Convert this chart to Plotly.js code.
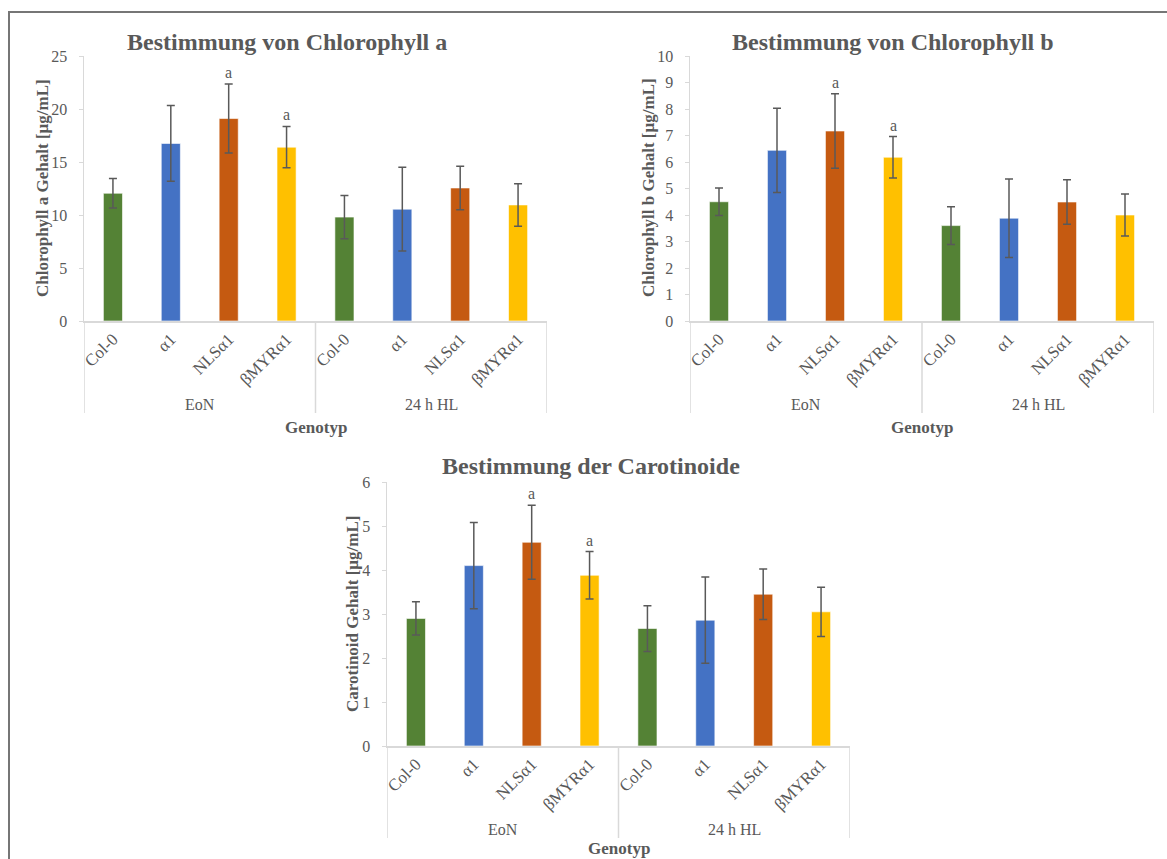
<!DOCTYPE html>
<html>
<head>
<meta charset="utf-8">
<script src="https://cdn.plot.ly/plotly-3.0.1.min.js"></script>
<style>html,body{margin:0;padding:0;background:#fff;}#chart{width:1167px;height:859px;}</style>
</head>
<body>
<div id="chart"></div>
<script>
// ---- data ----
const groups = ['EoN','EoN','EoN','EoN','24 h HL','24 h HL','24 h HL','24 h HL'];
const genotypes = ['Col-0','α1','NLSα1','βMYRα1','Col-0','α1','NLSα1','βMYRα1'];
const genotypeColors = {'Col-0':'#548235','α1':'#4472C4','NLSα1':'#C55A11','βMYRα1':'#FFC000'};
const chlA = [12.05, 16.75, 19.1, 16.4, 9.8, 10.55, 12.55, 10.95];
const chlA_sd = [1.4, 3.57, 3.25, 1.95, 2.05, 3.95, 2.05, 2.0];
const chlB = [4.5, 6.44, 7.17, 6.18, 3.6, 3.88, 4.49, 4.0];
const chlB_sd = [0.52, 1.59, 1.41, 0.78, 0.71, 1.48, 0.84, 0.79];
const car = [2.9, 4.1, 4.63, 3.88, 2.67, 2.86, 3.45, 3.05];
const car_sd = [0.38, 0.98, 0.84, 0.54, 0.52, 0.98, 0.575, 0.56];
const sigLabels = ['', '', 'a', 'a', '', '', '', ''];
const titles = ['Bestimmung von Chlorophyll a', 'Bestimmung von Chlorophyll b', 'Bestimmung der Carotinoide'];
const yTitles = ['Chlorophyll a Gehalt [µg/mL]', 'Chlorophyll b Gehalt [µg/mL]', 'Carotinoid Gehalt [µg/mL]'];
const xTitle = 'Genotyp';

// ---- layout helpers ----
const W = 1167, H = 859;
const px = v => v / W;
const py = v => 1 - v / H;
const FONT = 'Liberation Serif, Times New Roman, serif';
const GREY = '#595959';
const AX = '#d9d9d9';

const panels = [
  {vals: chlA, sd: chlA_sd, x: [84, 547], y: [56, 321], range: [0, 25], dtick: 5, title: [287, 42], ytitle: [42, 188], grp: 404, geno: 427, div: 413},
  {vals: chlB, sd: chlB_sd, x: [690, 1154], y: [56, 321], range: [0, 10], dtick: 1, title: [893, 42], ytitle: [648, 188], grp: 404, geno: 427, div: 413},
  {vals: car, sd: car_sd, x: [387, 850], y: [482, 746], range: [0, 6], dtick: 1, title: [591, 466], ytitle: [352, 614], grp: 829, geno: 848, div: 838}
];

const idx = genotypes.map((_, i) => i);
const uniqGroups = [...new Set(groups)];
const data = [];
const layout = {
  width: W, height: H,
  margin: {l: 0, r: 0, t: 0, b: 0},
  paper_bgcolor: '#fff', plot_bgcolor: '#fff',
  showlegend: false,
  bargap: 0.67,
  font: {family: FONT, color: GREY, size: 16},
  annotations: [], shapes: []
};

// outer frame
layout.shapes.push({type: 'rect', xref: 'paper', yref: 'paper', x0: px(9), x1: 1.02, y0: -0.02, y1: py(12), line: {color: '#767676', width: 2}});

panels.forEach((p, k) => {
  const n = k + 1;
  const xa = n === 1 ? 'x' : 'x' + n, ya = n === 1 ? 'y' : 'y' + n;
  const xk = n === 1 ? 'xaxis' : 'xaxis' + n, yk = n === 1 ? 'yaxis' : 'yaxis' + n;
  data.push({
    type: 'bar', x: idx, y: p.vals, xaxis: xa, yaxis: ya,
    marker: {color: genotypes.map(g => genotypeColors[g]), line: {color: 'rgba(255,255,255,0.6)', width: 1}},
    error_y: {type: 'data', array: p.sd, visible: true, color: GREY, thickness: 1.5, width: 4},
    hoverinfo: 'skip'
  });
  layout[xk] = {
    domain: [px(p.x[0]), px(p.x[1])], anchor: ya, range: [-0.5, genotypes.length - 0.5],
    tickmode: 'array', tickvals: idx, ticktext: genotypes, tickangle: -45,
    showline: true, linecolor: AX, linewidth: 1.5, ticks: '', showgrid: false, zeroline: false,
    tickfont: {family: FONT, size: 17, color: GREY}, fixedrange: true
  };
  layout[yk] = {
    domain: [py(p.y[1]), py(p.y[0])], anchor: xa, range: p.range, dtick: p.dtick,
    showline: true, linecolor: AX, linewidth: 1.5, ticks: 'outside', ticklen: 4, tickcolor: AX,
    ticklabelstandoff: 8,
    showgrid: false, zeroline: false, tickfont: {family: FONT, size: 16, color: GREY}, fixedrange: true
  };
  // title
  layout.annotations.push({text: '<b>' + titles[k] + '</b>', xref: 'paper', yref: 'paper', x: px(p.title[0]), y: py(p.title[1]), xanchor: 'center', yanchor: 'middle', showarrow: false, font: {family: FONT, size: 24, color: GREY}});
  // y title
  layout.annotations.push({text: '<b>' + yTitles[k] + '</b>', xref: 'paper', yref: 'paper', x: px(p.ytitle[0]), y: py(p.ytitle[1]), xanchor: 'center', yanchor: 'middle', textangle: -90, showarrow: false, font: {family: FONT, size: 17, color: GREY}});
  // x title
  layout.annotations.push({text: '<b>' + xTitle + '</b>', xref: xa, yref: 'paper', x: (genotypes.length - 1) / 2, y: py(p.geno), xanchor: 'center', yanchor: 'middle', showarrow: false, font: {family: FONT, size: 17, color: GREY}});
  // group labels and dividers
  const bounds = [];
  uniqGroups.forEach(g => {
    const members = idx.filter(i => groups[i] === g);
    const c = members.reduce((a, b) => a + b, 0) / members.length;
    layout.annotations.push({text: g, xref: xa, yref: 'paper', x: c, y: py(p.grp), xanchor: 'center', yanchor: 'middle', showarrow: false, font: {family: FONT, size: 16, color: GREY}});
    bounds.push(members[0] - 0.5, members[members.length - 1] + 0.5);
  });
  [...new Set(bounds)].forEach(b => {
    layout.shapes.push({type: 'line', xref: xa, yref: 'paper', x0: b, x1: b, y0: py(p.y[1]), y1: py(p.div), line: {color: AX, width: 1.5}});
  });
  // significance letters
  idx.forEach(i => {
    if (sigLabels[i]) {
      layout.annotations.push({text: sigLabels[i], xref: xa, yref: ya, x: i, y: p.vals[i] + p.sd[i], xanchor: 'center', yanchor: 'bottom', yshift: 1, showarrow: false, font: {family: FONT, size: 16, color: GREY}});
    }
  });
});

Plotly.newPlot('chart', data, layout, {displayModeBar: false, staticPlot: true});
</script>
</body>
</html>
